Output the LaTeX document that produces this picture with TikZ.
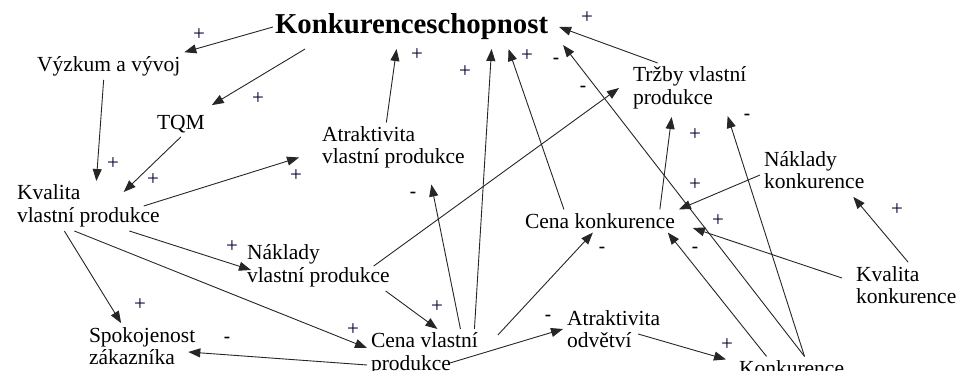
\documentclass[tikz,border=0pt]{standalone}
\usepackage{fontspec}
\setmainfont{Liberation Serif}
\usetikzlibrary{arrows.meta}

\begin{document}
\begin{tikzpicture}[x=1pt,y=-1pt,
  factor/.style={font=\fontsize{21.5}{22.5}\selectfont,align=left,anchor=west,inner sep=0pt,outer sep=4pt},
  goal/.style={font=\fontsize{28.8}{30}\selectfont\bfseries,anchor=west,inner sep=0pt,outer xsep=2pt,outer ysep=9pt},
  link/.style={draw=black!85,line width=0.9pt,-{Triangle[length=12pt,width=9pt]}},
  plussign/.style={font=\fontsize{21}{21}\selectfont,text=black!80!blue,inner sep=0pt},
  minussign/.style={font=\fontsize{19}{19}\selectfont\bfseries,inner sep=0pt}]
\useasboundingbox (0,0) rectangle (956,371);
% factors
\node[goal] (title) at (273,27) {Konkurenceschopnost};
\node[factor] (vyzkum) at (33,66) {Výzkum a vývoj};
\node[factor] (tqm) at (153,124) {TQM};
\node[factor] (atrvp) at (318,147.5) {Atraktivita\\vlastní produkce};
\node[factor] (trzby) at (629,88) {Tržby vlastní\\produkce};
\node[factor] (kvalvp) at (13,206) {Kvalita\\vlastní produkce};
\node[factor] (naklkonk) at (760,170) {Náklady\\konkurence};
\node[factor] (cenakonk) at (521,221) {Cena konkurence};
\node[factor] (naklvp) at (243,266) {Náklady\\vlastní produkce};
\node[factor] (kvalkonk) at (852,285) {Kvalita\\konkurence};
\node[factor] (spokoj) at (85,346) {Spokojenost\\zákazníka};
\node[factor] (cenavp) at (367,354) {Cena vlastní\\produkce};
\node[factor] (atrodv) at (563,329) {Atraktivita\\odvětví};
\node[factor] (konk) at (735,368) {Konkurence};
% links
\draw[link] (title.west) -- (vyzkum.north east);
\draw[link] ([xshift=32pt]title.south west) -- ([xshift=3pt,yshift=6pt]tqm.north east);
\draw[link] ([xshift=-5pt]vyzkum.south) -- ([xshift=8pt]kvalvp.north);
\draw[link] (tqm.south) -- ([xshift=-40pt,yshift=-11pt]kvalvp.north east);
\draw[link] ([xshift=-20pt]kvalvp.east) -- ([xshift=-19pt,yshift=-10pt]atrvp.west);
\draw[link] ([xshift=-7pt]atrvp.north) -- ([xshift=-15pt]title.south);
\draw[link] ([xshift=36pt]cenavp.north) -- ([xshift=38pt,yshift=-12pt]atrvp.south);
\draw[link] ([xshift=50pt]cenavp.north) -- ([xshift=80pt]title.south);
\draw[link] ([xshift=-36pt]cenakonk.north) -- ([xshift=97pt]title.south);
\draw[link] ([xshift=-20pt]naklvp.east) -- ([xshift=-10pt]trzby.west);
\draw[link] ([xshift=13pt]konk.north) -- ([xshift=13pt,yshift=4pt]title.south east);
\draw[link] ([xshift=13pt]konk.north) -- ([xshift=38pt,yshift=-3pt]trzby.south);
\draw[link] ([xshift=-25pt]konk.north) -- ([xshift=-11pt]cenakonk.south east);
\draw[link] ([xshift=-32pt]trzby.north) -- ([xshift=9pt]title.east);
\draw[link] ([xshift=-19pt]cenakonk.north east) -- ([xshift=-18pt,yshift=-4pt]trzby.south);
\draw[link] ([yshift=-5pt]naklkonk.west) -- (cenakonk.north east);
\draw[link] ([xshift=-10pt,yshift=7pt]kvalkonk.west) -- ([xshift=14pt,yshift=-7pt]cenakonk.east);
\draw[link] ([xshift=2pt]kvalkonk.north) -- ([xshift=-15pt,yshift=-4pt]naklkonk.south east);
\draw[link] ([xshift=41pt]kvalvp.south) -- ([xshift=8pt,yshift=-4pt]naklvp.west);
\draw[link] ([xshift=-24pt]kvalvp.south) -- ([xshift=-21pt]spokoj.north);
\draw[link] ([xshift=-14pt]kvalvp.south) -- ([yshift=6pt]cenavp.west);
\draw[link] ([yshift=-11pt]cenavp.west) -- ([xshift=-11pt,yshift=-6pt]spokoj.east);
\draw[link] ([xshift=-8pt]naklvp.south east) -- ([xshift=13pt]cenavp.north);
\draw[link] ([xshift=-32pt,yshift=-9pt]cenavp.east) -- (atrodv.west);
\draw[link] ([xshift=-26pt,yshift=-5pt]atrodv.east) -- ([xshift=-9pt,yshift=-3pt]konk.north west);
\draw[link] ([xshift=16pt,yshift=-6pt]cenavp.north east) -- ([xshift=-7pt]cenakonk.south);
% signs
\foreach \x/\y [count=\i] in {199/35,258/99,113/164,153/180,296/176,417/55,465/72,527/56,587/18,
  695/135,695/185,718/221,897/210,232/247,140/305,353/330,437/307,727/345}
  \node[plussign] (p\i) at (\x,\y) {+};
\foreach \x/\y [count=\i] in {556/61,583/89,747/117,695/250,602/250,413/195,227/340,548/318}
  \node[minussign] (m\i) at (\x,\y) {-};
\end{tikzpicture}
\end{document}
